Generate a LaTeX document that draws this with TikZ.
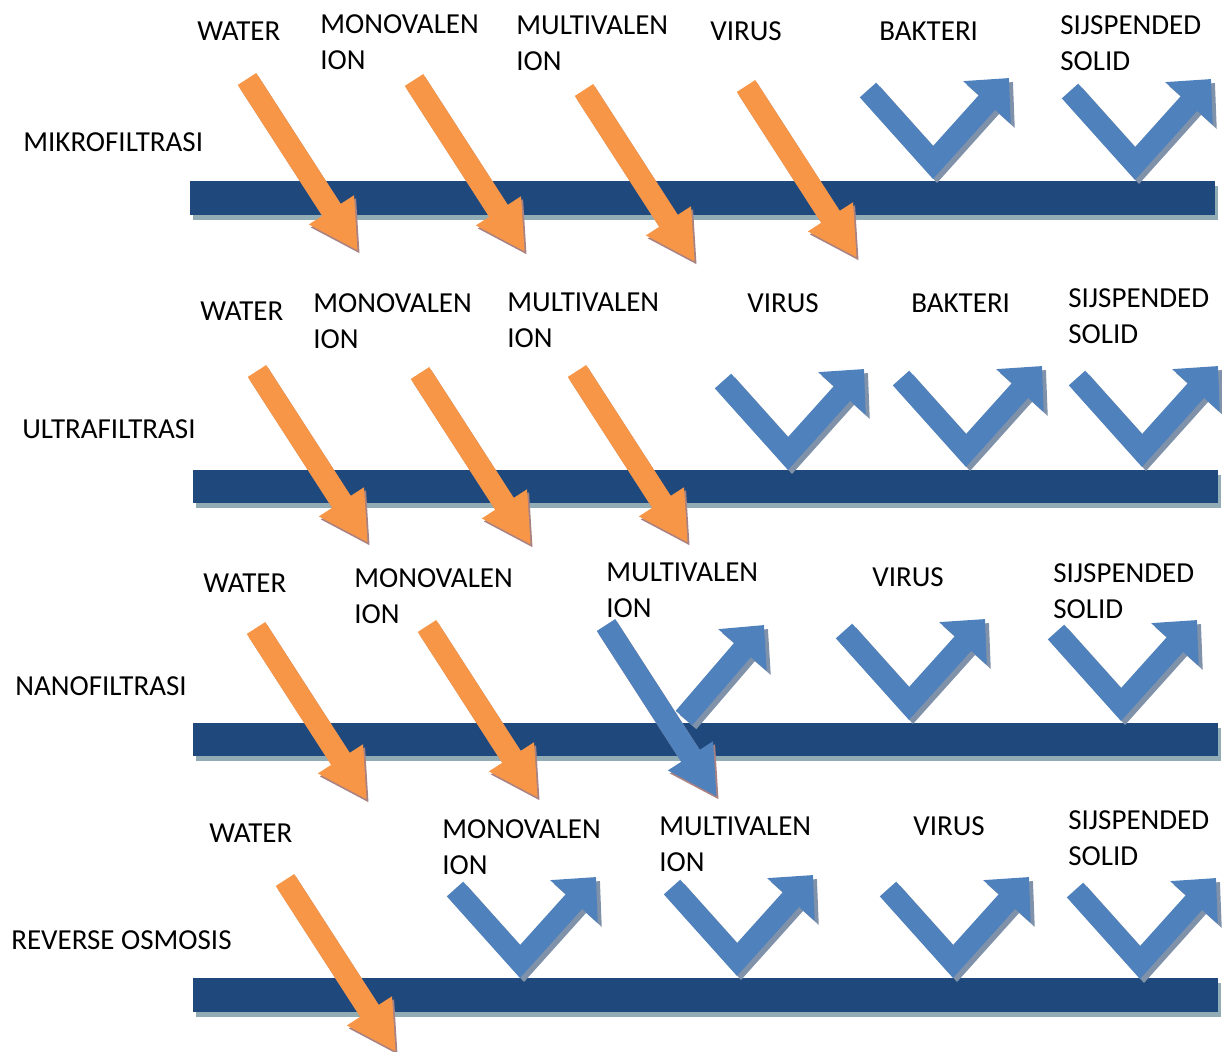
\documentclass[tikz,border=0pt]{standalone}
\usepackage{fontspec}
\setmainfont{Carlito}
\usetikzlibrary{arrows.meta}
\definecolor{barblue}{RGB}{31,73,125}
\definecolor{barshade}{RGB}{146,172,182}
\definecolor{passorange}{RGB}{247,150,70}
\definecolor{stopblue}{RGB}{79,129,189}
\definecolor{orangeshade}{RGB}{170,130,130}
\definecolor{blueshade}{RGB}{128,146,170}
% orange (or blue) arrow going through the membrane, #1,#2 = top of shaft
\newcommand{\passarrow}[3]{%
\draw[passarr, orangeshade, shift={(2,3)}] (#1,#2) -- ++(111,172);
\draw[passarr, #3] (#1,#2) -- ++(111,172);}
% bent arrow bouncing back, #1,#2 = lowest point of the bend
\newcommand{\bentarrow}[2]{%
\begin{scope}[shift={(#1,#2)}]
\draw[bentarr, blueshade, shift={(4,4)}] (-65,-88) -- (0,-15.5) -- (76,-100);
\draw[bentarr, stopblue] (-65,-88) -- (0,-15.5) -- (76,-100);
\end{scope}}
\begin{document}
\begin{tikzpicture}[x = 0.02cm, y = -0.02cm,
  lbl/.style = {anchor = west, inner sep = 0pt, align = left,
    font = \fontsize{16.5}{20.5}\selectfont},
  membrane/.style = {fill = barblue},
  membraneshadow/.style = {fill = barshade},
  passarr/.style = {line width = 0.44cm, -{Triangle[length = 0.98cm, width = 1cm]}},
  bentarr/.style = {line width = 0.44cm, line join = miter,
    -{Triangle[length = 0.66cm, width = 1.24cm]}}]
\useasboundingbox (0,0) rectangle (1222,1051);
% row 1
\fill[membraneshadow] (193,186) rectangle (1218,220);
\fill[membrane] (190,181) rectangle (1215,215);
\node[lbl] (mikro) at (23,142) {MIKROFILTRASI};
\node[lbl] (water1) at (197,31) {WATER};
\node[lbl] (mono1) at (320,42) {MONOVALEN\\ION};
\node[lbl] (multi1) at (516,43) {MULTIVALEN\\ION};
\node[lbl] (virus1) at (710,31) {VIRUS};
\node[lbl] (bakteri1) at (879,31) {BAKTERI};
\node[lbl] (solid1) at (1060,43.5) {SIJSPENDED\\SOLID};
\passarrow{247}{79}{passorange}
\passarrow{414}{80}{passorange}
\passarrow{584}{90}{passorange}
\passarrow{746}{86}{passorange}
\bentarrow{933}{178}
\bentarrow{1135}{179}
% row 2
\fill[membraneshadow] (196,475) rectangle (1221,508);
\fill[membrane] (193,470) rectangle (1218,503);
\node[lbl] (ultra) at (22,429) {ULTRAFILTRASI};
\node[lbl] (water2) at (200,311) {WATER};
\node[lbl] (mono2) at (313,321) {MONOVALEN\\ION};
\node[lbl] (multi2) at (507,320) {MULTIVALEN\\ION};
\node[lbl] (virus2) at (747,303) {VIRUS};
\node[lbl] (bakteri2) at (911,303) {BAKTERI};
\node[lbl] (solid2) at (1068,316) {SIJSPENDED\\SOLID};
\passarrow{257}{371}{passorange}
\passarrow{420}{373}{passorange}
\passarrow{577}{371}{passorange}
\bentarrow{788}{469}
\bentarrow{966}{466}
\bentarrow{1142}{466}
% row 3
\fill[membraneshadow] (196,728) rectangle (1221,761);
\fill[membrane] (193,723) rectangle (1218,756);
\node[lbl] (nano) at (15,686) {NANOFILTRASI};
\node[lbl] (water3) at (203,583) {WATER};
\node[lbl] (mono3) at (354,596) {MONOVALEN\\ION};
\node[lbl] (multi3) at (606,590.5) {MULTIVALEN\\ION};
\node[lbl] (virus3) at (872,577) {VIRUS};
\node[lbl] (solid3) at (1053,591) {SIJSPENDED\\SOLID};
\passarrow{256}{628}{passorange}
\passarrow{427}{626}{passorange}
\draw[bentarr, blueshade, shift={(4,4)}] (684,718) -- (764,625);
\draw[bentarr, stopblue] (684,718) -- (764,625);
\passarrow{606}{625}{stopblue}
\bentarrow{909}{719}
\bentarrow{1121}{720}
% row 4
\fill[membraneshadow] (196,983) rectangle (1221,1017);
\fill[membrane] (193,978) rectangle (1218,1012);
\node[lbl] (reverse) at (11,940) {REVERSE OSMOSIS};
\node[lbl] (water4) at (209,833) {WATER};
\node[lbl] (mono4) at (442,847) {MONOVALEN\\ION};
\node[lbl] (multi4) at (659,844) {MULTIVALEN\\ION};
\node[lbl] (virus4) at (913,826) {VIRUS};
\node[lbl] (solid4) at (1068,838) {SIJSPENDED\\SOLID};
\passarrow{285}{880}{passorange}
\bentarrow{520}{977}
\bentarrow{737}{975}
\bentarrow{953}{977}
\bentarrow{1140}{978}
\end{tikzpicture}
\end{document}
